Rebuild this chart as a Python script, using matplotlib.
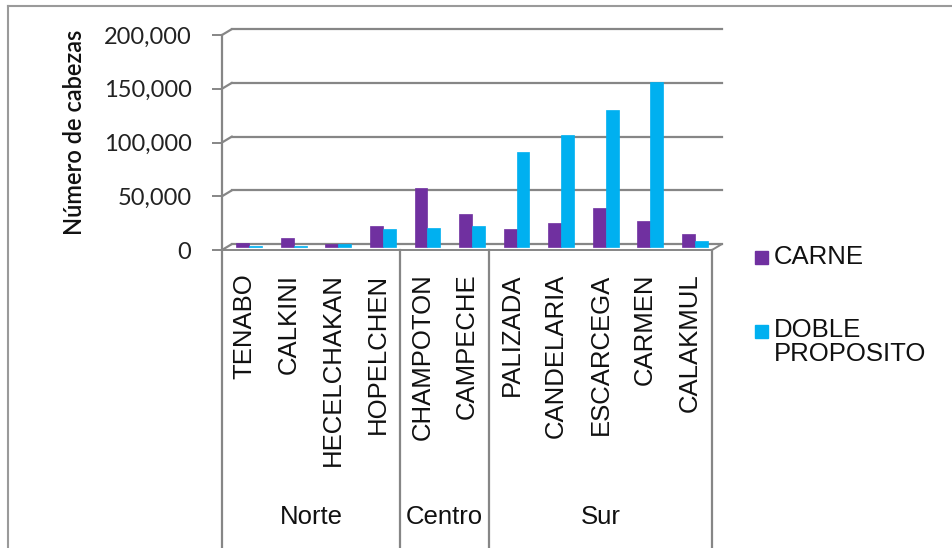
"""Cabezas de ganado por municipio (Campeche): carne vs doble propósito."""
import matplotlib
matplotlib.use("Agg")
import matplotlib.pyplot as plt
import matplotlib.transforms as mtransforms
from matplotlib.patches import ConnectionPatch, Rectangle
from matplotlib.lines import Line2D
import numpy as np

W, H = 952, 548
OUTPUT = "out.png"

municipios = ["TENABO", "CALKINI", "HECELCHAKAN", "HOPELCHEN", "CHAMPOTON",
              "CAMPECHE", "PALIZADA", "CANDELARIA", "ESCARCEGA", "CARMEN", "CALAKMUL"]
regiones = ["Norte", "Centro", "Sur"]
region_sizes = [4, 2, 5]
carne = [3500, 8000, 3000, 20000, 55000, 30500, 16500, 22500, 36000, 24000, 12500]
doble = [1000, 1000, 3000, 17000, 18000, 20000, 88500, 104500, 127000, 153500, 6000]
series_names = ["CARNE", "DOBLE\nPROPOSITO"]
colors = ["#7030A0", "#00B0F0"]
yticks = [0, 50000, 100000, 150000, 200000]

GRID = "#868686"
SANS = "Liberation Sans"


def fx(x):
    return x / W


def fy(y):
    return 1 - y / H


fig = plt.figure(figsize=(W / 100, H / 100), dpi=100)
fig.patch.set_facecolor("white")

# outer frame (only top/left visible in the reference)
fig.add_artist(Line2D([fx(8), fx(952)], [fy(6), fy(6)], color="#9a9a9a", lw=1.5))
fig.add_artist(Line2D([fx(8), fx(8)], [fy(6), fy(548)], color="#9a9a9a", lw=1.5))

ax = fig.add_axes([fx(222), fy(250), fx(490), 215 / H])
ax.set_xlim(-0.5, len(municipios) - 0.5)
ax.set_ylim(0, 200000)
ax.patch.set_alpha(0)
for s in ax.spines.values():
    s.set_visible(False)

back = mtransforms.offset_copy(ax.transData, fig=fig, x=10, y=6, units="dots")
mid = mtransforms.offset_copy(ax.transData, fig=fig, x=5, y=3, units="dots")
x0, x1 = ax.get_xlim()

# back-wall gridlines with perspective connectors
for v in yticks:
    ax.add_line(Line2D([x0, x1], [v, v], transform=back, color=GRID, lw=1.6, clip_on=False))
    ax.add_artist(ConnectionPatch((x0, v), (x0, v), coordsA=ax.transData, coordsB=back,
                                  color=GRID, lw=1.6))
# floor front edge and right diagonal
ax.add_line(Line2D([x0, x1], [0, 0], color=GRID, lw=1.4, clip_on=False))
ax.add_artist(ConnectionPatch((x1, 0), (x1, 0), coordsA=ax.transData, coordsB=back,
                              color=GRID, lw=1.4))

# bars
x = np.arange(len(municipios))
bw = 0.29
for vals, col, off in [(carne, colors[0], -bw / 2), (doble, colors[1], bw / 2)]:
    bars = ax.bar(x + off, vals, width=bw, color=col, edgecolor=col, lw=0.5, zorder=3)
    for p in bars.patches:
        p.set_transform(mid)
        p.set_clip_on(False)

# y axis
ax.set_yticks(yticks)
ax.set_yticklabels([f"{v:,}" for v in yticks], fontfamily="Lato", fontsize=17, color="#222222")
ax.tick_params(axis="y", length=7, width=1.4, color=GRID, pad=15)
fig.text(fx(75), fy(132), "Número de cabezas", rotation=90, ha="center", va="center",
         fontfamily="Lato", fontsize=17, color="#111111", fontweight="semibold")

# x axis category labels
ax.set_xticks(x)
ax.set_xticklabels(municipios, rotation=90, va="top", ha="center",
                   fontfamily=SANS, fontsize=18.5, color="#111111")
ax.tick_params(axis="x", length=0, pad=17)

# region separators and labels
xt = ax.get_xaxis_transform()
depth = -(H - 250) / 215
ax.add_line(Line2D([x0, x0], [1, depth], transform=xt, color=GRID, lw=1.6, clip_on=False))
edges = np.cumsum([0] + region_sizes) - 0.5
for e in edges[1:]:
    ax.add_line(Line2D([e, e], [0, depth], transform=xt, color=GRID, lw=1.6, clip_on=False))
for name, a, b in zip(regiones, edges[:-1], edges[1:]):
    ax.text((a + b) / 2, -(517 - 250) / 215, name, transform=xt, ha="center", va="center",
            fontfamily=SANS, fontsize=18.5, color="#111111")

# legend
legend_y = [257, 331]
text_y = [257, 342]
for name, col, ly, ty in zip(series_names, colors, legend_y, text_y):
    fig.add_artist(Rectangle((fx(755), fy(ly + 6.5)), fx(13), 13 / H, color=col,
                             transform=fig.transFigure))
    fig.text(fx(774), fy(ty), name, ha="left", va="center", fontfamily=SANS,
             fontsize=18.5, color="#111111", linespacing=1.05)

fig.savefig(OUTPUT, dpi=100)
